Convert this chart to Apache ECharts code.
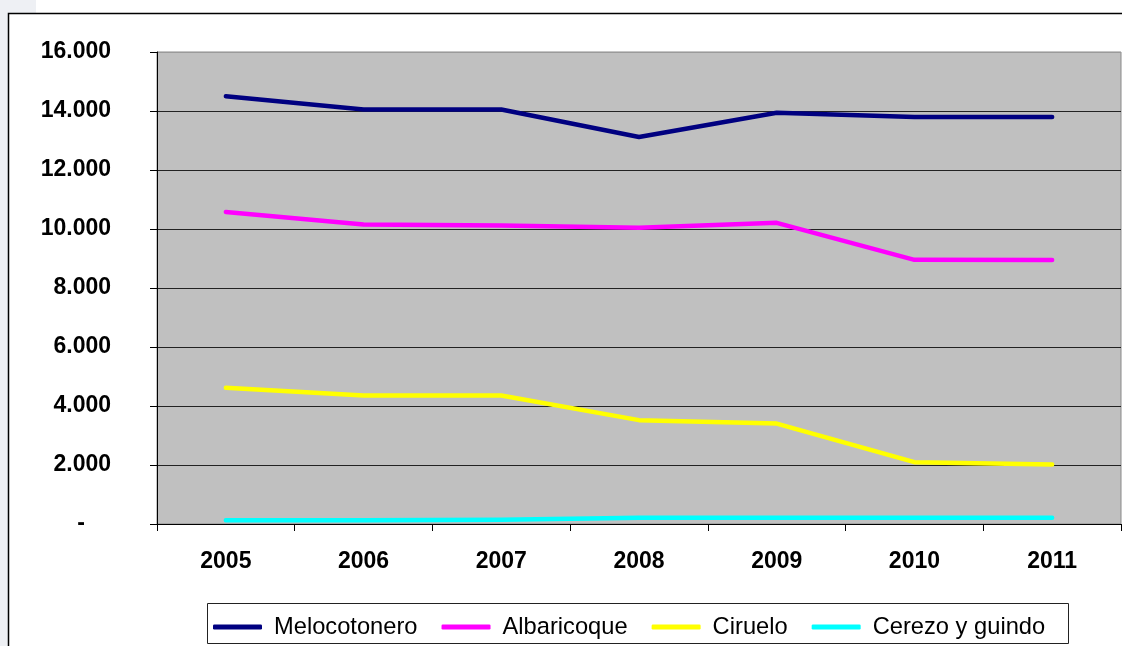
<!DOCTYPE html>
<html>
<head>
<meta charset="utf-8">
<script src="https://cdn.jsdelivr.net/npm/echarts@6/dist/echarts.min.js"></script>
<style>
html,body{margin:0;padding:0;background:#fff;}
#chart{width:1122px;height:646px;}
</style>
</head>
<body>
<div id="chart"></div>
<script>
const years = ['2005','2006','2007','2008','2009','2010','2011'];
const melocotonero = [14500, 14050, 14050, 13120, 13940, 13800, 13800];
const albaricoque = [10580, 10150, 10120, 10040, 10210, 8955, 8950];
const ciruelo = [4615, 4355, 4355, 3520, 3405, 2095, 2020];
const cerezo = [130, 130, 140, 210, 210, 210, 210];
const seriesNames = ['Melocotonero', 'Albaricoque', 'Ciruelo', 'Cerezo y guindo'];
const seriesColors = ['#000080', '#FF00FF', '#FFFF00', '#00FFFF'];
const seriesData = [melocotonero, albaricoque, ciruelo, cerezo];
const yTicks = [0, 2000, 4000, 6000, 8000, 10000, 12000, 14000, 16000];

const FONT = "'Liberation Sans', Arial, sans-serif";

function fmt(v) {
  if (v === 0) return '{d|-}';
  const s = String(Math.round(v));
  return s.replace(/\B(?=(\d{3})+(?!\d))/g, '.');
}

const chart = echarts.init(document.getElementById('chart'), null, {renderer: 'canvas'});
chart.setOption({
  animation: false,
  backgroundColor: '#ffffff',
  graphic: [
    {type: 'rect', z: -10, shape: {x: 0, y: 0, width: 36, height: 13}, style: {fill: '#eef0f4'}},
    {type: 'rect', z: -10, shape: {x: 0, y: 13, width: 8, height: 640}, style: {fill: '#eef0f4'}},
    {type: 'rect', z: -5, shape: {x: 8.5, y: 13.5, width: 1300, height: 800},
      style: {fill: 'none', stroke: '#000', lineWidth: 1.5}},
    {type: 'rect', z: 5, shape: {x: 207.5, y: 603.5, width: 861, height: 40},
      style: {fill: '#fff', stroke: '#222', lineWidth: 1}}
  ],
  grid: {
    left: 157, right: 1, top: 52, bottom: 122,
    show: true, backgroundColor: '#c0c0c0', borderColor: '#8a8a8a', borderWidth: 1,
    containLabel: false
  },
  legend: {
    z: 10,
    left: 208, top: 610,
    itemGap: 24,
    itemWidth: 49, itemHeight: 5,
    icon: 'roundRect',
    textStyle: {fontFamily: FONT, fontSize: 23.7, color: '#000', padding: [0, 0, 0, 7]},
    data: seriesNames
  },
  xAxis: {
    type: 'category',
    data: years,
    boundaryGap: true,
    axisLine: {lineStyle: {color: '#000', width: 1}},
    axisTick: {show: true, length: 7, lineStyle: {color: '#000'}, interval: 0},
    axisLabel: {fontFamily: FONT, fontSize: 23, fontWeight: 'bold', color: '#000', margin: 26, interval: 0},
    splitLine: {show: false}
  },
  yAxis: {
    type: 'value',
    min: 0, max: 16000, interval: 2000,
    axisLine: {show: true, lineStyle: {color: '#000', width: 1}},
    axisTick: {show: true, length: 7, lineStyle: {color: '#000'}},
    axisLabel: {
      fontFamily: FONT, fontSize: 23, fontWeight: 'bold', color: '#000', margin: 46,
      formatter: fmt,
      rich: {d: {fontFamily: FONT, fontSize: 23, fontWeight: 'bold', color: '#000', padding: [0, 26, 0, 0]}}
    },
    splitLine: {show: true, lineStyle: {color: ['#222','#222','#222','#222','#222','#222','#222','#222','#9a9a9a'], width: 1}}
  },
  series: seriesData.map((d, i) => ({
    name: seriesNames[i],
    type: 'line',
    data: d,
    symbol: 'none',
    color: seriesColors[i],
    lineStyle: {color: seriesColors[i], width: 4.5, cap: 'round', join: 'round'},
    itemStyle: {color: seriesColors[i]}
  }))
});
</script>
</body>
</html>
